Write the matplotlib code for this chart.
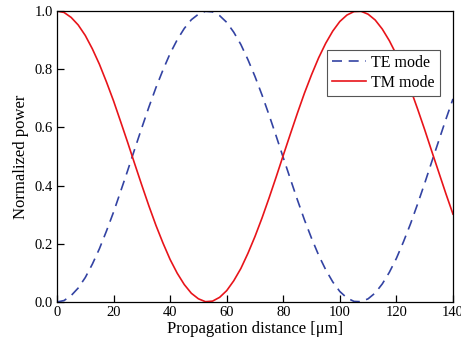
import matplotlib
matplotlib.use("Agg")
from matplotlib import pyplot as plt

plt.rcParams["font.family"] = ["Liberation Serif", "DejaVu Serif"]

# propagation distance [um]
distance = [0, 2.5, 5, 7.5, 10, 12.5, 15, 17.5, 20, 22.5, 25, 27.5, 30, 32.5, 35,
            37.5, 40, 42.5, 45, 47.5, 50, 52.5, 55, 57.5, 60, 62.5, 65, 67.5, 70,
            72.5, 75, 77.5, 80, 82.5, 85, 87.5, 90, 92.5, 95, 97.5, 100, 102.5,
            105, 107.5, 110, 112.5, 115, 117.5, 120, 122.5, 125, 127.5, 130,
            132.5, 135, 137.5, 140]

# TM mode normalized power
tm_power = [1.000, 0.995, 0.978, 0.952, 0.916, 0.870, 0.817, 0.756, 0.691, 0.620,
            0.548, 0.474, 0.401, 0.330, 0.263, 0.202, 0.146, 0.099, 0.060, 0.030,
            0.011, 0.001, 0.003, 0.016, 0.039, 0.073, 0.115, 0.167, 0.225, 0.289,
            0.358, 0.430, 0.504, 0.577, 0.649, 0.718, 0.781, 0.839, 0.889, 0.931,
            0.964, 0.986, 0.998, 0.999, 0.989, 0.969, 0.938, 0.898, 0.850, 0.793,
            0.731, 0.663, 0.592, 0.518, 0.445, 0.372, 0.302]

# TE mode normalized power
te_power = [0.000, 0.005, 0.022, 0.048, 0.084, 0.130, 0.183, 0.244, 0.309, 0.380,
            0.452, 0.526, 0.599, 0.670, 0.737, 0.798, 0.854, 0.901, 0.940, 0.970,
            0.989, 0.999, 0.997, 0.984, 0.961, 0.927, 0.885, 0.833, 0.775, 0.711,
            0.642, 0.570, 0.496, 0.423, 0.351, 0.282, 0.219, 0.161, 0.111, 0.069,
            0.036, 0.014, 0.002, 0.001, 0.011, 0.031, 0.062, 0.102, 0.150, 0.207,
            0.269, 0.337, 0.408, 0.482, 0.555, 0.628, 0.698]

fig = plt.figure(figsize=(4.61, 3.48), dpi=100)
ax = fig.add_axes([0.1236, 0.1322, 0.859, 0.8362])

ax.plot(distance, te_power, color="#3343a3", lw=1.2, dashes=(6, 4), label="TE mode")
ax.plot(distance, tm_power, color="#e8141a", lw=1.2, label="TM mode")

ax.set_xlim(0, 140)
ax.set_ylim(0, 1.0)
ax.set_xticks(range(0, 141, 20))
ax.set_yticks([0.0, 0.2, 0.4, 0.6, 0.8, 1.0])
ax.set_yticklabels(["0.0", "0.2", "0.4", "0.6", "0.8", "1.0"])
ax.tick_params(direction="in", length=5, width=0.9, labelsize=10.5, pad=3)
ax.set_xlabel("Propagation distance [\u03bcm]", fontsize=12, labelpad=1)
ax.set_ylabel("Normalized power", fontsize=12, labelpad=4)
for s in ax.spines.values():
    s.set_linewidth(0.9)

leg = ax.legend(loc="upper right", bbox_to_anchor=(0.966, 0.866), fontsize=11.5,
                frameon=True, fancybox=False, edgecolor="#555555", framealpha=1,
                handlelength=2.1, handletextpad=0.35, borderpad=0.3,
                labelspacing=0.25, borderaxespad=0)
leg.get_frame().set_linewidth(0.8)

fig.savefig("out.png", dpi=100)
